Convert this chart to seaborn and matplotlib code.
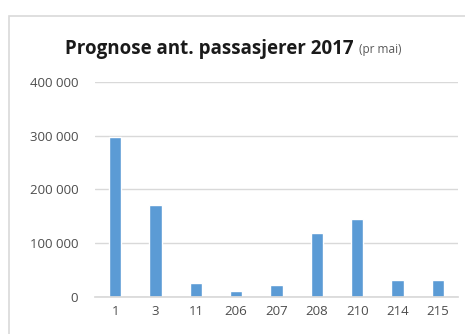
import matplotlib
matplotlib.use("Agg")
import matplotlib.pyplot as plt
import matplotlib.patches as mpatches
from matplotlib.ticker import FuncFormatter
import seaborn as sns
import pandas as pd

# Forecast passengers per route, 2017
routes = ["1", "3", "11", "206", "207", "208", "210", "214", "215"]
passengers = [298000, 171000, 26000, 11000, 22000, 119000, 145000, 32000, 32000]
y_ticks = [0, 100000, 200000, 300000, 400000]

df = pd.DataFrame({"route": routes, "passengers": passengers})

sns.set_theme(style="white")
plt.rcParams["font.family"] = ["Open Sans", "DejaVu Sans"]

W, H = 465, 334
fig = plt.figure(figsize=(W / 100, H / 100), dpi=100)
fig.patch.set_facecolor("white")

# chart frame
fig.add_artist(mpatches.Rectangle((9 / W, -0.05), 1.2, (H - 16) / H + 0.05,
                                  transform=fig.transFigure, fill=False,
                                  edgecolor="#d9d9d9", linewidth=1.2))

ax = fig.add_axes([95 / W, (H - 297) / H, (458 - 95) / W, (297 - 82) / H])
sns.barplot(data=df, x="route", y="passengers", order=routes, color="#5B9BD5",
            saturation=1, width=0.3, ax=ax)

ax.set_ylim(0, 400000)
ax.set_yticks(y_ticks)
ax.yaxis.set_major_formatter(FuncFormatter(lambda v, p: f"{int(v):,}".replace(",", " ")))
ax.grid(axis="y", color="#d9d9d9", linewidth=1)
ax.set_axisbelow(True)
for s in ["top", "right", "left"]:
    ax.spines[s].set_visible(False)
ax.spines["bottom"].set_color("#d9d9d9")
ax.set_xlabel("")
ax.set_ylabel("")
ax.tick_params(axis="both", length=0, labelsize=9.5, labelcolor="#4d4d4d")
ax.tick_params(axis="y", pad=12)
ax.tick_params(axis="x", pad=6)

t1 = fig.text(65 / W, 1 - 49 / H, "Prognose ant. passasjerer 2017", fontsize=13.5,
              fontweight="bold", color="#1a1a1a", ha="left", va="center")
fig.canvas.draw()
bb = t1.get_window_extent()
fig.text((bb.x1 + 5) / W, 1 - 50 / H, "(pr mai)", fontsize=8.5, color="#595959",
         ha="left", va="center")

fig.savefig("out.png", dpi=100, facecolor="white")
